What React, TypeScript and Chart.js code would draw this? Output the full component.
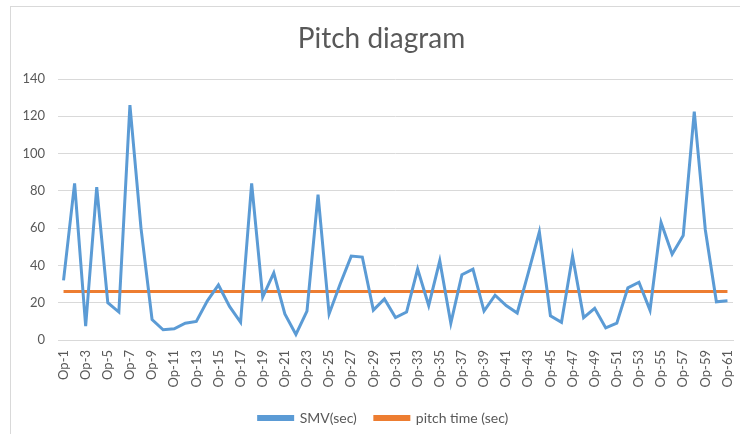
import React, { useEffect, useRef } from "react";
import { Chart, registerables } from "chart.js";

Chart.register(...registerables);

const categories: string[] = [
  "Op-1", "Op-2", "Op-3", "Op-4", "Op-5", "Op-6", "Op-7", "Op-8", "Op-9", "Op-10",
  "Op-11", "Op-12", "Op-13", "Op-14", "Op-15", "Op-16", "Op-17", "Op-18", "Op-19", "Op-20",
  "Op-21", "Op-22", "Op-23", "Op-24", "Op-25", "Op-26", "Op-27", "Op-28", "Op-29", "Op-30",
  "Op-31", "Op-32", "Op-33", "Op-34", "Op-35", "Op-36", "Op-37", "Op-38", "Op-39", "Op-40",
  "Op-41", "Op-42", "Op-43", "Op-44", "Op-45", "Op-46", "Op-47", "Op-48", "Op-49", "Op-50",
  "Op-51", "Op-52", "Op-53", "Op-54", "Op-55", "Op-56", "Op-57", "Op-58", "Op-59", "Op-60",
  "Op-61",
];

const smvSec: number[] = [
  32, 84, 7.5, 82, 20, 15, 126, 60, 11, 5.5,
  6, 9, 10, 21, 29.5, 18, 9.5, 84, 23, 36,
  14, 3, 15.5, 78, 14, 30, 45, 44.5, 16, 22,
  12, 15, 38, 18.5, 42.5, 9, 35, 38, 15.5, 24,
  18.5, 14.5, 36, 58, 13, 9.5, 45, 12, 17, 6.5,
  9, 28, 31, 16, 63, 46, 56, 122.5, 59, 20.5,
  21,
];

const pitchTimeSec: number[] = [
  26, 26, 26, 26, 26, 26, 26, 26, 26, 26,
  26, 26, 26, 26, 26, 26, 26, 26, 26, 26,
  26, 26, 26, 26, 26, 26, 26, 26, 26, 26,
  26, 26, 26, 26, 26, 26, 26, 26, 26, 26,
  26, 26, 26, 26, 26, 26, 26, 26, 26, 26,
  26, 26, 26, 26, 26, 26, 26, 26, 26, 26,
  26,
];

const seriesNames: string[] = ["SMV(sec)", "pitch time (sec)"];
const titleText = "Pitch diagram";

const FONT = "Lato, 'Open Sans', 'DejaVu Sans', sans-serif";
const TEXT = "#595959";

const blockShift = {
  id: "blockShift",
  afterLayout(chart: any) {
    if (chart.titleBlock) {
      chart.titleBlock.left += 10;
      chart.titleBlock.right += 10;
    }
    if (chart.legend) {
      chart.legend.left += 12;
      chart.legend.right += 12;
    }
  },
};

export default function App() {
  const ref = useRef<HTMLCanvasElement | null>(null);

  useEffect(() => {
    if (!ref.current) return;
    const chart = new Chart(ref.current, {
      type: "line",
      data: {
        labels: categories,
        datasets: [
          {
            label: seriesNames[0],
            data: smvSec,
            borderColor: "#5B9BD5",
            backgroundColor: "#5B9BD5",
            borderWidth: 3,
            pointRadius: 0,
            tension: 0,
          },
          {
            label: seriesNames[1],
            data: pitchTimeSec,
            borderColor: "#ED7D31",
            backgroundColor: "#ED7D31",
            borderWidth: 3,
            pointRadius: 0,
            tension: 0,
          },
        ],
      },
      plugins: [blockShift],
      options: {
        animation: false,
        responsive: false,
        maintainAspectRatio: false,
        layout: { padding: { left: 10, right: 7, top: 0, bottom: 3 } },
        plugins: {
          title: {
            display: true,
            text: titleText,
            color: TEXT,
            font: { family: FONT, size: 28, weight: "normal" },
            padding: { top: 22, bottom: 23.4 },
          },
          legend: {
            position: "bottom",
            labels: {
              color: TEXT,
              font: { family: FONT, size: 14 },
              boxWidth: 34,
              boxHeight: 3,
              padding: 18,
            },
          },
          tooltip: { enabled: false },
        },
        scales: {
          x: {
            offset: true,
            grid: { display: false, drawTicks: false },
            border: { display: true, color: "#d9d9d9" },
            ticks: {
              autoSkip: false,
              maxRotation: 90,
              minRotation: 90,
              padding: 10,
              color: TEXT,
              font: { family: FONT, size: 13 },
              callback: (_v: any, i: number) => (i % 2 === 0 ? categories[i] : ""),
            },
            afterFit: (s: any) => {
              s.height = 53;
              s.paddingRight = 0;
              s.paddingLeft = 0;
            },
          },
          y: {
            min: 0,
            max: 140,
            grid: { color: "#d9d9d9", drawTicks: false },
            border: { display: false },
            ticks: {
              stepSize: 20,
              padding: 13,
              color: TEXT,
              font: { family: FONT, size: 13 },
            },
            afterFit: (s: any) => {
              s.width = 48;
            },
          },
        },
      },
    });
    return () => chart.destroy();
  }, []);

  return (
    <div style={{ position: "fixed", left: 0, top: 0, width: 740, height: 434, background: "#fff", overflow: "hidden" }}>
      <div
        style={{
          position: "absolute",
          left: 10,
          top: 6,
          width: 800,
          height: 600,
          border: "1px solid #d9d9d9",
          boxSizing: "border-box",
        }}
      />
      <canvas ref={ref} width={740} height={438} style={{ position: "absolute", left: 0, top: 0, width: 740, height: 438 }} />
    </div>
  );
}
